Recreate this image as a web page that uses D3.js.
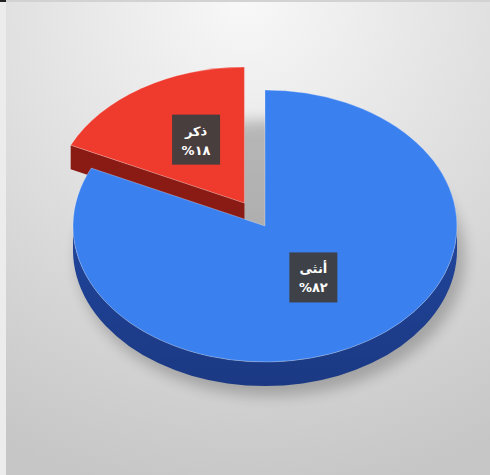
<!DOCTYPE html>
<html>
<head>
<meta charset="utf-8">
<script src="https://cdn.jsdelivr.net/npm/d3@7"></script>
<style>
  html, body { margin: 0; padding: 0; background: #ffffff; }
  svg { display: block; }
</style>
</head>
<body>
<svg id="chart" width="490" height="475"></svg>
<script>
// Gender split, 3D pie
const categories = ["أنثى", "ذكر"];
const values = [82, 18];
const topColors = ["#3b80ef", "#ee3b2e"];
const sideColors = ["#1f4194", "#8a1b14"];
const explode = [0, 0.2];

const W = 490, H = 475;
const cx = 265, cy = 226, rx = 192, ry = 136, depth = 24;

const arabicDigits = "٠١٢٣٤٥٦٧٨٩";
const toArabic = n => String(n).replace(/[0-9]/g, d => arabicDigits[+d]);

const svg = d3.select("#chart");
const defs = svg.append("defs");

// background
const bg = defs.append("radialGradient").attr("id", "bg")
  .attr("cx", "50%").attr("cy", "0%").attr("r", "105%").attr("fx", "50%").attr("fy", "0%");
bg.append("stop").attr("offset", "0%").attr("stop-color", "#f8f8f8");
bg.append("stop").attr("offset", "100%").attr("stop-color", "#c6c6c6");
svg.append("rect").attr("width", W).attr("height", H).attr("fill", "url(#bg)");
svg.append("rect").attr("x", 0).attr("y", 0).attr("width", 6).attr("height", H).attr("fill", "#ececec");
svg.append("rect").attr("x", 0).attr("y", 0).attr("width", W).attr("height", 2).attr("fill", "#d2d2d2");
svg.append("rect").attr("x", 0).attr("y", 0).attr("width", 6).attr("height", 2).attr("fill", "#222");

// soft shadow filter
const blur = defs.append("filter").attr("id", "shadow")
  .attr("x", "-20%").attr("y", "-20%").attr("width", "140%").attr("height", "140%");
blur.append("feGaussianBlur").attr("stdDeviation", 7);

// side-wall shading
sideColors.forEach((c, i) => {
  const lg = defs.append("linearGradient").attr("id", "side" + i)
    .attr("x1", "0%").attr("y1", "0%").attr("x2", "0%").attr("y2", "100%");
  lg.append("stop").attr("offset", "0%").attr("stop-color", d3.color(c).brighter(0.15));
  lg.append("stop").attr("offset", "100%").attr("stop-color", d3.color(c).darker(0.35));
});

const pie = d3.pie().sort(null).value(d => d).startAngle(0).endAngle(2 * Math.PI);
const arcs = pie(values);

// point on the ellipse rim for angle a (clockwise from 12 o'clock)
const px = (a, ox) => ox + rx * Math.sin(a);
const py = (a, oy) => oy - ry * Math.cos(a);

function topPath(d, ox, oy) {
  const large = (d.endAngle - d.startAngle) > Math.PI ? 1 : 0;
  return `M${ox},${oy}L${px(d.startAngle, ox)},${py(d.startAngle, oy)}` +
    `A${rx},${ry} 0 ${large} 1 ${px(d.endAngle, ox)},${py(d.endAngle, oy)}Z`;
}
function outerWall(a0, a1, ox, oy) {
  const s = Math.max(a0, Math.PI / 2), e = Math.min(a1, 3 * Math.PI / 2);
  if (e <= s) return null;
  const large = (e - s) > Math.PI ? 1 : 0;
  return `M${px(s, ox)},${py(s, oy)}A${rx},${ry} 0 ${large} 1 ${px(e, ox)},${py(e, oy)}` +
    `L${px(e, ox)},${py(e, oy) + depth}A${rx},${ry} 0 ${large} 0 ${px(s, ox)},${py(s, oy) + depth}Z`;
}
function radialWall(a, ox, oy) {
  return `M${ox},${oy}L${px(a, ox)},${py(a, oy)}L${px(a, ox)},${py(a, oy) + depth}L${ox},${oy + depth}Z`;
}

const slices = arcs.map((d, i) => {
  const mid = (d.startAngle + d.endAngle) / 2;
  return {
    d, i, mid,
    ox: cx + explode[i] * rx * Math.sin(mid),
    oy: cy - explode[i] * ry * Math.cos(mid)
  };
});

// shadow under the pie
svg.append("ellipse")
  .attr("cx", cx + 6).attr("cy", cy + depth + 8).attr("rx", rx + 2).attr("ry", ry + 2)
  .attr("fill", "#000").attr("opacity", 0.22).attr("filter", "url(#shadow)");

// back slices first
const order = slices.slice().sort((a, b) => a.oy - b.oy);
order.forEach(s => {
  const g = svg.append("g");
  const { d, i, ox, oy } = s;
  // radial faces turned towards the viewer
  if (Math.sin(d.startAngle) < -1e-6) {
    g.append("path").attr("d", radialWall(d.startAngle, ox, oy)).attr("fill", sideColors[i]);
  }
  if (Math.sin(d.endAngle) > 1e-6) {
    g.append("path").attr("d", radialWall(d.endAngle, ox, oy)).attr("fill", sideColors[i]);
  }
  const ow = outerWall(d.startAngle, d.endAngle, ox, oy);
  if (ow) g.append("path").attr("d", ow).attr("fill", `url(#side${i})`);
  g.append("path").attr("d", topPath(d, ox, oy)).attr("fill", topColors[i])
    .attr("stroke", "rgba(255,255,255,0.35)").attr("stroke-width", 0.8);
});

// data labels
const fx = 0.47, fy = 0.5;
slices.forEach(s => {
  const lx = s.ox + fx * rx * Math.sin(s.mid);
  const ly = s.oy - fy * ry * Math.cos(s.mid) - 6;
  const g = svg.append("g").attr("transform", `translate(${lx},${ly})`);
  const box = g.append("rect").attr("fill", "#3e3e3e").attr("fill-opacity", 0.95);
  const t = g.append("text")
    .attr("text-anchor", "middle")
    .attr("fill", "#ffffff")
    .attr("font-family", "DejaVu Sans, sans-serif")
    .attr("font-weight", "bold")
    .attr("font-size", 13);
  t.append("tspan").attr("x", 0).attr("y", -4).text(categories[s.i]);
  t.append("tspan").attr("x", 0).attr("y", 15).text("%" + toArabic(values[s.i]));
  const bb = t.node().getBBox();
  const bw = Math.max(bb.width + 16, 48), bh = 50;
  box.attr("x", -bw / 2).attr("y", -bh / 2).attr("width", bw).attr("height", bh);
});
</script>
</body>
</html>
